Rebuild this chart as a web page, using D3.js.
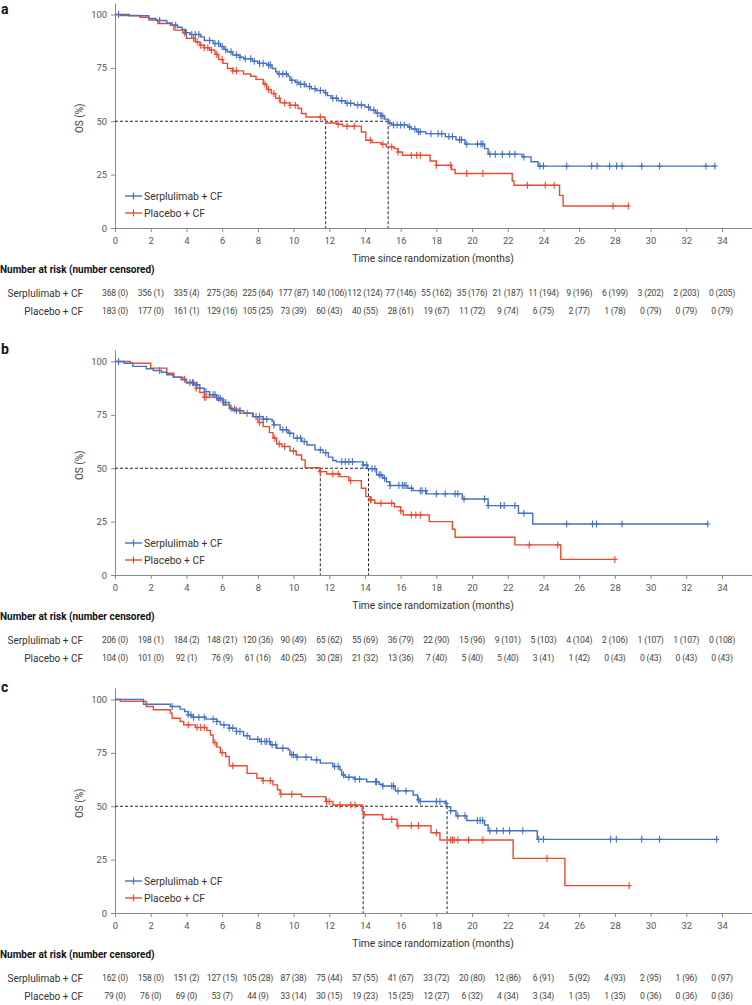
<!DOCTYPE html>
<html><head><meta charset="utf-8">
<script src="https://cdn.jsdelivr.net/npm/d3@7"></script>
<style>
body{margin:0;background:#fff;}
svg{display:block;font-family:Roboto,"Noto Sans",sans-serif;}
</style></head><body>
<svg id="chart" width="752" height="1005"></svg>
<script>
// ---------- shared ----------
const xTicks = [0,2,4,6,8,10,12,14,16,18,20,22,24,26,28,30,32,34];
const yTicks = [0,25,50,75,100];
const armNames = ["Serplulimab + CF","Placebo + CF"];
const armColors = ["#4472c4","#ec4a30"];
const panelLabels = ["a","b","c"];

// ---------- panel a ----------
const aSerSteps = [[0.8,99.4],[1.9,98.1],[2.3,97.2],[2.9,96.0],[3.2,95.0],[3.5,94.0],[3.75,93.0],[3.95,91.5],[4.2,90.6],[4.8,89.5],[5.0,87.8],[5.5,86.4],[5.9,85.0],[6.1,83.6],[6.3,82.5],[6.6,81.0],[7.0,80.0],[7.2,79.3],[7.7,78.1],[8.0,77.1],[8.5,76.3],[8.8,74.7],[9.0,73.2],[9.1,72.1],[9.7,71.0],[9.8,69.2],[10.1,68.2],[10.3,67.3],[10.7,66.3],[11.0,65.2],[11.3,64.4],[11.7,63.4],[11.9,62.0],[12.1,60.8],[12.5,59.6],[12.9,58.4],[13.4,57.6],[14.0,56.6],[14.3,55.2],[14.6,53.8],[14.9,52.5],[15.1,51.0],[15.3,49.2],[15.5,48.3],[16.4,47.3],[16.6,46.4],[16.9,45.1],[17.4,44.2],[18.5,42.8],[19.1,41.3],[19.6,39.3],[20.7,37.2],[20.9,34.6],[22.8,33.3],[23.3,31.0],[23.7,29.0]];
const aSerEnd = 33.6;
const aSerCensor = [0.2,2.5,3.4,4.0,4.3,4.5,4.7,5.3,5.6,5.8,6.0,6.2,6.5,6.8,7.0,7.3,7.6,7.8,8.1,8.3,8.6,8.7,9.2,9.4,9.6,9.9,10.2,10.4,10.6,10.9,11.2,11.5,11.8,12.2,12.4,12.7,13.0,13.2,13.6,13.8,14.2,14.5,14.7,14.9,15.0,15.4,15.6,15.8,16.0,16.2,16.5,16.8,17.0,17.1,17.7,18.1,18.3,18.7,18.9,19.3,19.4,19.7,20.3,20.5,20.6,21.0,21.3,21.7,22.1,22.4,22.9,23.8,24.0,25.3,26.7,27.0,27.7,28.1,28.4,29.5,30.5,33.1,33.6];
const aPlaSteps = [[0.3,99.5],[1.4,98.7],[1.9,97.4],[2.4,95.8],[3.1,95.0],[3.3,92.7],[3.8,91.4],[4.0,88.8],[4.5,87.2],[4.75,85.6],[5.0,84.4],[5.3,83.3],[5.6,81.4],[5.8,78.9],[6.05,77.1],[6.3,74.7],[6.6,73.6],[7.2,72.1],[7.6,71.1],[7.9,69.6],[8.3,67.4],[8.5,64.9],[8.75,63.0],[9.0,60.7],[9.25,58.6],[9.8,57.5],[10.25,56.0],[10.45,53.6],[10.7,52.0],[11.75,50.8],[11.8,49.2],[12.4,48.6],[12.75,47.7],[13.8,45.0],[14.05,41.1],[14.4,40.0],[14.9,39.2],[15.2,38.0],[15.65,37.2],[15.85,35.6],[16.1,34.1],[17.65,31.4],[18.0,29.4],[18.85,27.4],[19.05,25.5],[22.25,22.0],[22.35,20.0],[24.9,15.3],[25.1,10.3]];
const aPlaEnd = 28.75;
const aPlaCensor = [3.9,4.4,4.6,4.8,5.0,5.2,5.4,5.7,6.0,6.6,6.8,8.4,8.6,8.9,9.2,9.5,9.8,10.1,11.5,12.5,13.0,13.4,14.3,15.0,15.5,15.85,16.6,16.9,17.1,18.0,18.8,19.7,20.6,23.1,24.1,24.6,27.9,28.75];
const aMedians = [15.3,11.8];
const aSerRisk = [368,356,335,275,225,177,140,112,77,55,35,21,11,9,6,3,2,0];
const aSerCens = [0,1,4,36,64,87,106,124,146,162,176,187,194,196,199,202,203,205];
const aPlaRisk = [183,177,161,129,105,73,60,40,28,19,11,9,6,2,1,0,0,0];
const aPlaCens = [0,0,1,16,25,39,43,55,61,67,72,74,75,77,78,79,79,79];

// ---------- panel b ----------
const bSerSteps = [[0.5,99.2],[1.0,97.7],[1.75,96.6],[2.15,95.8],[2.6,95.0],[2.9,93.8],[3.25,92.7],[3.7,91.4],[4.0,90.2],[4.4,89.1],[4.75,87.5],[5.0,85.9],[5.3,84.4],[5.7,82.8],[6.05,80.8],[6.4,78.1],[6.6,77.0],[7.2,75.8],[7.7,74.2],[8.3,73.0],[8.8,72.0],[8.9,70.3],[9.25,68.0],[9.7,66.4],[10.0,64.1],[10.45,62.5],[10.75,60.9],[11.2,58.6],[11.65,57.3],[11.95,55.2],[12.2,53.6],[12.4,53.0],[13.9,51.5],[14.15,49.8],[14.65,46.9],[15.0,45.3],[15.2,43.7],[15.4,41.9],[16.4,40.6],[16.7,39.5],[17.45,38.0],[19.45,35.6],[20.9,32.5],[22.6,28.9],[23.4,23.9]];
const bSerEnd = 33.2;
const bSerCensor = [0.2,2.5,4.2,4.35,4.6,5.1,5.3,5.5,5.6,5.8,5.9,6.1,6.2,6.5,6.8,7.0,7.9,8.1,8.3,8.5,8.9,9.4,9.6,9.8,10.2,10.4,10.6,11.5,11.8,12.7,12.9,13.1,13.3,13.9,14.1,14.4,14.56,14.8,14.9,15.1,15.4,15.9,16.1,16.2,16.3,16.6,17.1,17.2,17.4,18.0,18.5,19.05,19.2,19.55,20.7,20.9,21.6,21.8,22.4,22.9,25.3,26.75,26.97,28.4,33.2];
const bPlaSteps = [[0.85,99.2],[2.0,96.9],[2.9,94.5],[3.3,92.7],[3.8,91.7],[4.0,89.9],[4.55,87.5],[4.75,85.5],[5.0,83.3],[5.7,82.0],[6.05,79.7],[6.45,77.7],[7.0,75.8],[7.75,74.2],[8.0,71.4],[8.3,69.5],[8.65,66.7],[8.85,64.1],[9.05,61.4],[9.35,60.2],[9.8,58.1],[10.15,56.2],[10.45,53.9],[10.65,50.3],[11.45,48.4],[11.85,47.3],[12.6,46.1],[13.1,44.2],[13.8,40.6],[14.05,36.7],[14.3,35.2],[14.55,33.6],[15.65,32.0],[16.0,30.1],[16.15,28.1],[17.6,25.0],[18.9,21.4],[19.05,17.7],[22.4,14.1],[24.97,7.3]];
const bPlaEnd = 28.0;
const bPlaCensor = [3.9,4.4,4.55,5.0,5.1,6.7,7.4,8.1,8.95,9.2,9.5,10.0,11.5,12.2,12.5,13.2,14.3,14.35,14.9,15.5,16.0,16.6,16.85,17.1,23.2,24.8,28.0];
const bMedians = [14.2,11.5];
const bSerRisk = [206,198,184,148,120,90,65,55,36,22,15,9,5,4,2,1,1,0];
const bSerCens = [0,1,2,21,36,49,62,69,79,90,96,101,103,104,106,107,107,108];
const bPlaRisk = [104,101,92,76,61,40,30,21,13,7,5,5,3,1,0,0,0,0];
const bPlaCens = [0,0,1,9,16,25,28,32,36,40,40,40,41,42,43,43,43,43];

// ---------- panel c ----------
const cSerSteps = [[1.6,97.8],[3.1,96.7],[3.65,95.5],[3.9,94.4],[4.1,92.8],[4.3,91.7],[5.1,90.8],[5.7,89.7],[5.9,88.1],[6.4,86.6],[6.8,85.0],[7.2,83.0],[7.55,81.4],[8.1,80.3],[8.7,78.8],[9.05,77.2],[9.7,76.4],[9.8,74.1],[10.15,73.0],[11.0,71.7],[11.5,70.2],[12.2,68.6],[12.6,67.0],[12.7,64.7],[12.9,63.6],[13.4,62.7],[14.1,61.5],[14.8,60.3],[15.0,59.5],[15.7,57.2],[16.7,55.3],[16.95,53.0],[17.1,52.2],[18.5,51.4],[18.6,49.8],[18.8,47.9],[19.1,45.5],[19.7,43.3],[20.7,41.2],[20.9,38.5],[23.65,34.5]];
const cSerEnd = 33.7;
const cSerCensor = [3.2,4.1,4.25,4.4,4.7,5.0,5.5,5.7,6.1,6.4,6.6,6.8,7.0,7.4,8.0,8.2,8.4,8.5,8.65,8.8,9.0,9.4,9.9,10.0,10.2,10.7,11.3,12.3,12.5,12.8,13.1,13.45,13.7,14.6,14.65,15.0,15.5,15.6,15.85,16.3,17.0,17.1,18.0,18.2,18.55,18.8,19.2,19.6,20.3,20.45,20.6,21.0,21.38,21.75,22.1,22.84,23.73,24.0,27.76,28.08,29.5,30.5,33.7];
const cPlaSteps = [[0.3,99.1],[1.75,96.7],[2.15,95.2],[3.1,93.6],[3.2,91.2],[3.65,89.7],[3.85,88.1],[4.5,86.9],[5.15,85.5],[5.35,83.4],[5.5,79.8],[5.7,77.7],[5.9,75.1],[6.2,73.3],[6.4,69.0],[7.4,65.4],[7.95,63.1],[8.3,62.0],[8.85,60.0],[9.1,57.7],[9.25,55.6],[10.45,54.5],[11.8,52.2],[12.2,50.6],[13.85,47.5],[13.95,46.0],[15.0,43.9],[15.8,40.9],[17.7,37.6],[18.2,34.2],[22.3,25.6],[25.2,12.8]];
const cPlaEnd = 28.8;
const cPlaCensor = [4.1,4.6,4.8,5.0,5.6,6.0,6.6,8.3,8.7,9.3,9.9,11.85,12.0,12.6,13.2,13.45,13.95,15.5,15.85,16.6,17.0,18.0,18.8,18.9,19.0,19.2,19.8,20.6,24.2,28.8];
const cMedians = [18.6,13.9];
const cSerRisk = [162,158,151,127,105,87,75,57,41,33,20,12,6,5,4,2,1,0];
const cSerCens = [0,0,2,15,28,38,44,55,67,72,80,86,91,92,93,95,96,97];
const cPlaRisk = [79,76,69,53,44,33,30,19,15,12,6,4,3,1,1,0,0,0];
const cPlaCens = [0,0,0,7,9,14,15,23,25,27,32,34,34,35,35,36,36,36];

const panels = [
  {label:panelLabels[0], y0:228, arms:[
    {steps:aSerSteps,end:aSerEnd,cens:aSerCensor,risk:aSerRisk,rc:aSerCens},
    {steps:aPlaSteps,end:aPlaEnd,cens:aPlaCensor,risk:aPlaRisk,rc:aPlaCens}], medians:aMedians},
  {label:panelLabels[1], y0:575, arms:[
    {steps:bSerSteps,end:bSerEnd,cens:bSerCensor,risk:bSerRisk,rc:bSerCens},
    {steps:bPlaSteps,end:bPlaEnd,cens:bPlaCensor,risk:bPlaRisk,rc:bPlaCens}], medians:bMedians},
  {label:panelLabels[2], y0:913, arms:[
    {steps:cSerSteps,end:cSerEnd,cens:cSerCensor,risk:cSerRisk,rc:cSerCens},
    {steps:cPlaSteps,end:cPlaEnd,cens:cPlaCensor,risk:cPlaRisk,rc:cPlaCens}], medians:cMedians}
];

const svg = d3.select("#chart");
const x = d3.scaleLinear().domain([0,35.68]).range([115,752]);
const H = 213.5;

function survAt(steps,t){let s=100;for(const st of steps){if(st[0]<=t)s=st[1];}return s;}

panels.forEach(p=>{
  const g = svg.append("g");
  const y = d3.scaleLinear().domain([0,100]).range([p.y0,p.y0-H]);
  const yAx = d3.scaleLinear().domain([0,105.4]).range([p.y0,y(105.4)]);

  // panel label
  g.append("text").attr("x",1).attr("y",Math.max(14,p.y0-H-8)).attr("font-size",14).attr("font-weight",700)
    .attr("fill","#111").text(p.label);

  // axes
  const xa = g.append("g").attr("transform",`translate(0,${p.y0})`)
    .call(d3.axisBottom(x).tickValues(xTicks).tickSize(4).tickSizeOuter(0).tickPadding(5));
  const ya = g.append("g").attr("transform",`translate(115,0)`)
    .call(d3.axisLeft(yAx).tickValues(yTicks).tickSize(4).tickSizeOuter(0).tickPadding(4));
  [xa,ya].forEach(a=>{
    a.select(".domain").attr("stroke","#8a8a8a").attr("stroke-width",1);
    a.selectAll(".tick line").attr("stroke","#8a8a8a");
    a.selectAll(".tick text").attr("font-size",9.4).attr("fill","#555").attr("font-family","Roboto, sans-serif");
  });

  g.append("text").attr("transform",`translate(83,${p.y0-H/2-3}) rotate(-90)`)
    .attr("text-anchor","middle").attr("font-size",10).attr("fill","#444").text("OS (%)");
  g.append("text").attr("x",433).attr("y",p.y0+34).attr("text-anchor","middle")
    .attr("font-size",10.2).attr("fill","#333").text("Time since randomization (months)");

  // median dashed lines
  const dash = g.append("g").attr("stroke","#222").attr("stroke-width",1).attr("stroke-dasharray","3,2").attr("fill","none");
  dash.append("line").attr("x1",x(0)).attr("x2",x(d3.max(p.medians))).attr("y1",y(50)).attr("y2",y(50));
  p.medians.forEach(m=>{
    dash.append("line").attr("x1",x(m)).attr("x2",x(m)).attr("y1",y(50)).attr("y2",y(0));
  });

  // curves (placebo first, serplulimab on top)
  const line = d3.line().x(d=>x(d[0])).y(d=>y(d[1])).curve(d3.curveStepAfter);
  [1,0].forEach(i=>{
    const a = p.arms[i];
    const pts = [[0,100],...a.steps,[a.end,a.steps[a.steps.length-1][1]]];
    g.append("path").datum(pts).attr("d",line).attr("fill","none")
      .attr("stroke",armColors[i]).attr("stroke-width",1.4);
    g.append("g").selectAll("path").data(a.cens).join("path")
      .attr("d",t=>{const cx=x(t),cy=y(survAt(a.steps,t));return `M${cx-2.5},${cy}h5M${cx},${cy-3.5}v7`;})
      .attr("stroke",armColors[i]).attr("stroke-width",1.1).attr("fill","none");
  });

  // legend
  armNames.forEach((n,i)=>{
    const ly = p.y0-32+i*17;
    const lg = g.append("g");
    lg.append("line").attr("x1",125).attr("x2",142).attr("y1",ly).attr("y2",ly)
      .attr("stroke",armColors[i]).attr("stroke-width",1.4);
    lg.append("path").attr("d",`M133.5,${ly-3.5}v7`).attr("stroke",armColors[i]).attr("stroke-width",1.2);
    lg.append("text").attr("x",144).attr("y",ly).attr("dy","0.35em").attr("font-size",10.4)
      .attr("fill","#333").text(n);
  });

  // risk table
  g.append("text").attr("x",0).attr("y",p.y0+45).attr("font-size",10).attr("font-weight",700)
    .attr("fill","#111").text("Number at risk (number censored)");
  p.arms.forEach((a,i)=>{
    const ry = p.y0+65+i*18;
    g.append("text").attr("x",83).attr("y",ry).attr("dy","0.35em").attr("text-anchor","end")
      .attr("font-size",10).attr("fill","#333").text(armNames[i]);
    g.append("g").selectAll("text").data(xTicks).join("text")
      .attr("x",t=>x(t)).attr("y",ry).attr("dy","0.35em").attr("text-anchor","middle")
      .attr("font-size",8.6).attr("fill","#444").attr("letter-spacing","-0.2")
      .text((t,j)=>`${a.risk[j]} (${a.rc[j]})`);
  });
});
</script>
</body></html>
